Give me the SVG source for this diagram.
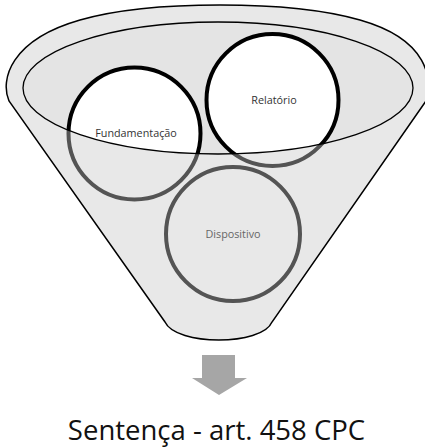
<svg xmlns="http://www.w3.org/2000/svg" width="425" height="447" viewBox="0 0 425 447">
<style>
.edge{stroke:#000;stroke-width:1.5}
.circ{fill:#fff;stroke:#000;stroke-width:4}
.lbl{font-family:"Open Sans","Liberation Sans",sans-serif;font-size:10.8px;fill:#333;text-anchor:middle}
.big{font-family:"Open Sans","Liberation Sans",sans-serif;font-size:27.5px;fill:#111;text-anchor:middle}
</style>
<defs>
<path id="funnel" d="M 9,101 C 0,80 10,40 80,20 C 150,0 290,0 360,20 C 430,40 432,80 426,101 L 272,322 C 262,346 176,346 165,322 Z"/>
</defs>
<g id="funnel-body">
<use href="#funnel" fill="#fff"/>
<ellipse cx="218" cy="88" rx="195" ry="66" fill="#e4e4e4"/>
</g>
<g id="node-relatorio"><circle class="circ" cx="272.5" cy="100" r="66"/></g>
<g id="node-fundamentacao"><circle class="circ" cx="134.5" cy="133.5" r="66"/></g>
<g id="node-dispositivo"><circle class="circ" cx="233" cy="234" r="67"/></g>
<g id="overlay">
<path fill="#c9c9c9" fill-opacity="0.42" fill-rule="evenodd" d="M 9,101 C 0,80 10,40 80,20 C 150,0 290,0 360,20 C 430,40 432,80 426,101 L 272,322 C 262,346 176,346 165,322 Z M 23,88 A 195,66 0 1 0 413,88 A 195,66 0 1 0 23,88 Z"/>
<use href="#funnel" fill="none" class="edge"/>
<ellipse cx="218" cy="88" rx="195" ry="66" fill="none" stroke="#000" stroke-width="1.3"/>
</g>
<g id="labels">
<text class="lbl" x="274" y="104">Relatório</text>
<text class="lbl" x="136" y="137">Fundamentação</text>
<text class="lbl" x="233" y="238" style="fill:#666">Dispositivo</text>
</g>
<g id="connectors">
<path d="M 202,355 L 235,355 L 235,378 L 247,378 L 219,395 L 192,378 L 202,378 Z" fill="#a6a6a6"/>
</g>
<g id="node-sentenca">
<text class="big" x="216.5" y="440">Sentença - art. 458 CPC</text>
</g>
</svg>
